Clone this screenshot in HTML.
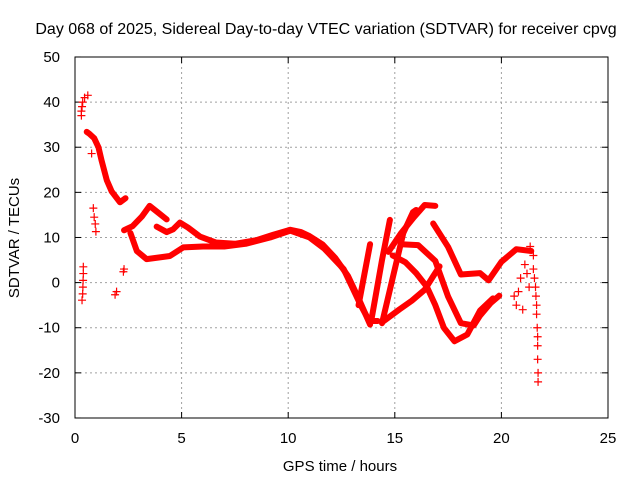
<!DOCTYPE html>
<html><head><meta charset="utf-8"><style>
body{margin:0;background:#fff;}
svg text{font-family:"Liberation Sans",sans-serif;font-size:15px;fill:#000;}
</style></head><body>
<svg id="chart" width="640" height="480" xmlns="http://www.w3.org/2000/svg">
<rect x="0" y="0" width="640" height="480" fill="#fff"/>
<text x="326" y="34" text-anchor="middle" style="font-size:16px">Day 068 of 2025, Sidereal Day-to-day VTEC variation (SDTVAR) for receiver cpvg</text>
<g id="grid"></g>
<rect x="75" y="57" width="533" height="361" fill="none" stroke="#000" stroke-width="1"/>
<g id="axes"></g>
<g id="series"></g>
<text x="340" y="471" text-anchor="middle">GPS time / hours</text>
<text transform="translate(19,238) rotate(-90)" text-anchor="middle">SDTVAR / TECUs</text>
</svg>
<script>
const xTicks=[0,5,10,15,20,25];
const yTicks=[-30,-20,-10,0,10,20,30,40,50];
const trackA=[[0.55,33.4],[0.67,33],[0.9,32],[1.1,30],[1.25,27],[1.49,22.7],[1.72,20.2],[2.11,17.8],[2.37,18.7]];
const trackB=[[2.3,11.6],[2.7,12.5],[3.13,14.6],[3.5,17.0],[3.9,15.5],[4.3,14.0]];
const trackC=[[3.83,12.4],[4.3,11.2],[4.6,11.8],[4.92,13.3],[5.3,12.2],[5.86,10.2],[6.6,8.9],[7.5,8.6],[8.5,9.4],[9.3,10.6],[10.1,11.7],[10.6,11.2],[11.0,10.3],[11.6,8.5],[12.2,5.5],[12.8,1.5],[13.3,-3.5],[13.84,-9.3]];
const trackD=[[2.6,11],[2.9,7],[3.36,5.2],[4.45,5.9],[5.08,7.8],[6.0,8.0],[7.0,8.0],[8.0,8.6],[9.15,10.0],[10.1,11.5],[11.0,10.0],[11.7,7.5],[12.6,3],[13.0,-1],[13.4,-5],[13.8,-8.5],[14.2,-8.5]];
const trackE=[[13.3,-5],[13.5,0],[13.84,8.5]];
const trackF=[[13.9,-8.3],[14.1,-3],[14.4,5],[14.77,13.9]];
const trackG=[[14.4,-9],[14.6,-5],[14.9,1],[15.4,11],[15.85,15.6],[16.0,16.1]];
const trackH=[[14.7,6.8],[15.3,11],[15.9,14.5],[16.4,17.2],[16.9,17.0]];
const trackI=[[14.4,-8.8],[15.2,-6],[15.8,-4],[16.4,-1.6],[16.8,1.4],[17.1,3.6]];
const trackJ=[[15.3,8.5],[16.1,8.3],[16.9,4.8],[17.5,-3.1],[18.1,-9],[18.7,-9.5],[19.0,-7.3],[19.5,-4.5],[19.9,-2.9]];
const trackK=[[14.9,6],[15.5,4.5],[16.0,2.1],[16.5,-0.9],[16.9,-5],[17.3,-10],[17.8,-13],[18.4,-11.5],[19.0,-6.2],[19.6,-3.5]];
const trackL=[[16.8,13.1],[17.5,7.9],[18.1,1.8],[19.0,2.1],[19.4,0.5],[20.0,4.6],[20.7,7.4],[21.4,7]];
const scatter=[[0.3,37],[0.3,38],[0.33,39],[0.36,40],[0.45,41],[0.6,41.5],[0.78,28.6],[0.86,16.5],[0.9,14.5],[0.95,13],[0.98,11.3],
[0.39,3.5],[0.39,2],[0.38,0.5],[0.37,-1],[0.36,-2.5],[0.33,-3.9],[1.88,-2.7],[1.95,-2],[2.27,2.4],[2.3,3],
[20.6,-3],[20.7,-5],[20.8,-2],[20.9,1],[21.0,-6],[21.1,4],[21.2,2],[21.3,-1],[21.35,8],[21.5,6],[21.5,3],[21.55,1],
[21.6,-1],[21.62,-3],[21.65,-5],[21.65,-7],[21.68,-10],[21.7,-12],[21.7,-14],[21.7,-17],[21.72,-20],[21.72,-22]];
const tracks=[trackA,trackB,trackC,trackD,trackE,trackF,trackG,trackH,trackI,trackJ,trackK,trackL];
const X=h=>75+h*533/25, Y=v=>282.6-v*361/80;
const NS="http://www.w3.org/2000/svg";
const grid=document.getElementById('grid'),axes=document.getElementById('axes'),ser=document.getElementById('series');
function mk(tag,attrs,parent){const e=document.createElementNS(NS,tag);for(const k in attrs)e.setAttribute(k,attrs[k]);parent.appendChild(e);return e;}
xTicks.forEach(t=>{
 const x=X(t);
 if(t>0&&t<25){const g=mk('line',{x1:x,x2:x,y1:57,y2:418,stroke:'#a0a0a0','stroke-dasharray':'2,3'},grid);
 
 }
 mk('line',{x1:x,x2:x,y1:418,y2:412,stroke:'#000'},axes);
 mk('line',{x1:x,x2:x,y1:57,y2:63,stroke:'#000'},axes);
 const tx=mk('text',{x:x,y:443,'text-anchor':'middle'},axes);tx.textContent=t;
 
 
});
yTicks.forEach(t=>{
 const y=Y(t);
 if(t>-30&&t<50){const g=mk('line',{x1:75,x2:608,y1:y,y2:y,stroke:'#a0a0a0','stroke-dasharray':'2,3'},grid);
 
 }
 mk('line',{x1:75,x2:81,y1:y,y2:y,stroke:'#000'},axes);
 mk('line',{x1:608,x2:602,y1:y,y2:y,stroke:'#000'},axes);
 const tx=mk('text',{x:60,y:y+5,'text-anchor':'end'},axes);tx.textContent=t;
 
 
});
tracks.forEach(tr=>{
 const p=mk('polyline',{points:tr.map(d=>X(d[0])+','+Y(d[1])).join(' '),fill:'none',stroke:'#f00','stroke-width':6,'stroke-linejoin':'round','stroke-linecap':'round'},ser);
 
 
});
scatter.forEach(d=>{
 const x=X(d[0]),y=Y(d[1]);
 const m=mk('path',{d:`M${x-4},${y}H${x+4}M${x},${y-4}V${y+4}`,stroke:'#f00','stroke-width':1.2},ser);
 
 
});
</script>
</body></html>
